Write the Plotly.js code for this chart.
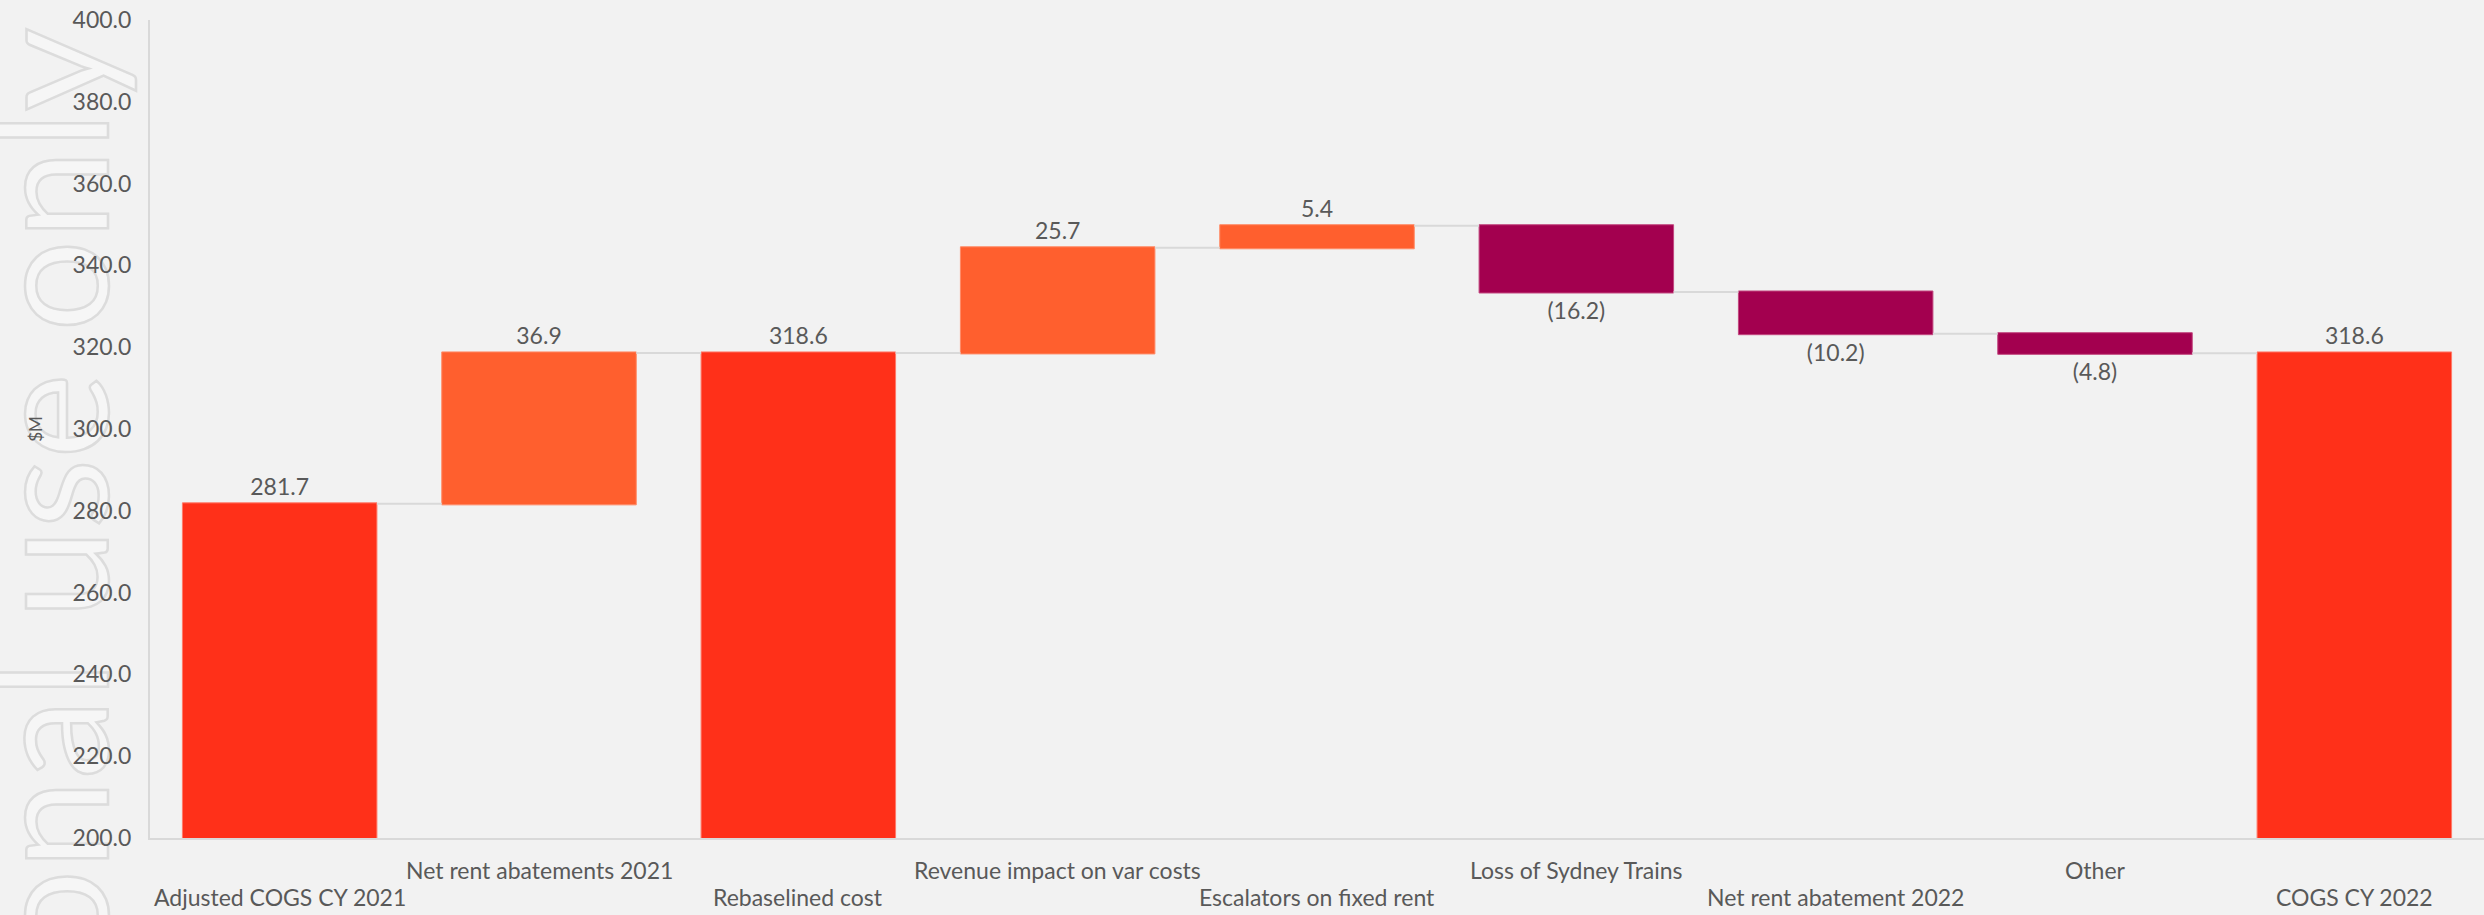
<!DOCTYPE html>
<html>
<head>
<meta charset="utf-8">
<script src="https://cdn.plot.ly/plotly-3.0.1.min.js"></script>
<style>
html,body{margin:0;padding:0;background:#F2F2F2;overflow:hidden;}
#wrap{position:relative;width:2484px;height:915px;}
#chart{position:absolute;left:0;top:0;width:2484px;height:915px;z-index:1;}
#watermark{position:absolute;z-index:0;white-space:nowrap;line-height:1;
  font-family:Lato,'Open Sans',sans-serif;font-size:162px;color:#F6F6F6;
  -webkit-text-stroke:2.5px #DCDCDC;transform-origin:0 0;transform:rotate(-90deg);}
</style>
</head>
<body>
<div id="wrap">
<div id="watermark"></div>
<div id="chart"></div>
</div>
<script>
const categories = [
  "Adjusted COGS CY 2021",
  "Net rent abatements 2021",
  "Rebaselined cost",
  "Revenue impact on var costs",
  "Escalators on fixed rent",
  "Loss of Sydney Trains",
  "Net rent abatement 2022",
  "Other",
  "COGS CY 2022"
];
const measures = ["absolute","relative","absolute","relative","relative","relative","relative","relative","absolute"];
const values = [281.7, 36.9, 318.6, 25.7, 5.4, -16.2, -10.2, -4.8, 318.6];
const yTickVals = [200,220,240,260,280,300,320,340,360,380,400];
const watermarkText = "For personal use only";
const yAxisTitle = "$M";

const FONT = "Lato, 'Open Sans', sans-serif";
const labels = values.map(v => v < 0 ? "(" + Math.abs(v).toFixed(1) + ")" : v.toFixed(1));

// watermark (behind the chart)
const wm = document.getElementById("watermark");
wm.textContent = watermarkText;
const wmW = wm.offsetWidth;
wm.style.left = "-35px";
wm.style.top = (28 + wmW) + "px";

const trace = {
  type: "waterfall",
  x: categories,
  y: values,
  measure: measures,
  text: labels,
  textposition: "outside",
  textfont: {family: FONT, size: 23, color: "#595959"},
  cliponaxis: false,
  increasing: {marker: {color: "#FF5F2E", line: {color: "#FF8A66", width: 1}}},
  decreasing: {marker: {color: "#A3004F", line: {color: "#C2477F", width: 1}}},
  totals: {marker: {color: "#FF3019", line: {color: "#FF7A6A", width: 1}}},
  connector: {mode: "between", line: {color: "#D9D9D9", width: 2}},
  hoverinfo: "none"
};

const annotations = categories.map((c, i) => ({
  x: c, xref: "x", yref: "paper",
  y: i % 2 === 0 ? -0.072 : -0.039,
  yanchor: "middle", xanchor: "center",
  text: c, showarrow: false,
  font: {family: FONT, size: 23, color: "#595959"}
}));

const layout = {
  width: 2484, height: 915,
  paper_bgcolor: "rgba(0,0,0,0)", plot_bgcolor: "rgba(0,0,0,0)",
  margin: {l: 150, r: 0, t: 20, b: 77},
  showlegend: false,
  waterfallgap: 0.25,
  font: {family: FONT, color: "#595959"},
  xaxis: {
    type: "category", showticklabels: false, showgrid: false, zeroline: false,
    showline: true, linecolor: "#D9D9D9", linewidth: 2, ticks: ""
  },
  yaxis: {
    range: [200, 400], tickvals: yTickVals, tickformat: ".1f",
    showgrid: false, zeroline: false, showline: true, linecolor: "#D9D9D9", linewidth: 2,
    ticks: "", ticklabelstandoff: 12,
    tickfont: {family: FONT, size: 23, color: "#595959"},
    title: {text: yAxisTitle, font: {family: FONT, size: 17, color: "#595959"}, standoff: 26}
  },
  annotations: annotations
};

Plotly.newPlot("chart", [trace], layout, {displayModeBar: false, staticPlot: true});
</script>
</body>
</html>
